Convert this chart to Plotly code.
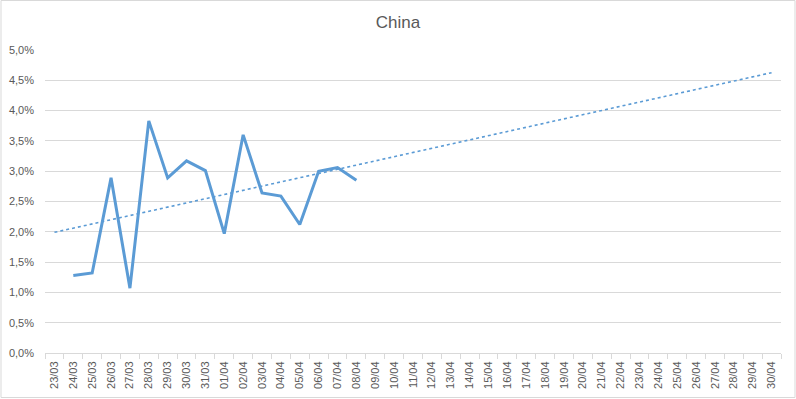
import numpy as np
import plotly.graph_objects as go

categories = ["23/03","24/03","25/03","26/03","27/03","28/03","29/03","30/03","31/03",
              "01/04","02/04","03/04","04/04","05/04","06/04","07/04","08/04","09/04",
              "10/04","11/04","12/04","13/04","14/04","15/04","16/04","17/04","18/04",
              "19/04","20/04","21/04","22/04","23/04","24/04","25/04","26/04","27/04",
              "28/04","29/04","30/04"]
data_dates = ["24/03","25/03","26/03","27/03","28/03","29/03","30/03","31/03",
              "01/04","02/04","03/04","04/04","05/04","06/04","07/04","08/04"]
values = [0.0128,0.0132,0.0289,0.0107,0.0383,0.0289,0.0317,0.0301,
          0.0197,0.0360,0.0264,0.0259,0.0212,0.0300,0.0306,0.0285]

# Linear trendline (Excel-style, on category index) extended over all categories
idx = np.array([categories.index(d) for d in data_dates], dtype=float)
slope, intercept = np.polyfit(idx, np.array(values), 1)
all_idx = np.arange(len(categories))
trend = slope * all_idx + intercept

color = "#5B9BD5"
fig = go.Figure()
fig.add_trace(go.Scatter(x=data_dates, y=values, mode="lines",
                         line=dict(color=color, width=3), showlegend=False, hoverinfo="skip"))
fig.add_trace(go.Scatter(x=categories, y=trend.tolist(), mode="lines",
                         line=dict(color=color, width=1.6, dash="dot"), showlegend=False, hoverinfo="skip"))

W, H = 796, 399
ml, mr, mt, mb = 45, 15, 50, 46
pw, ph = W - ml - mr, H - mt - mb
fig.update_layout(
    width=W, height=H,
    margin=dict(l=ml, r=mr, t=mt, b=mb),
    paper_bgcolor="white", plot_bgcolor="white",
    separators=",.",
    font=dict(family="Liberation Sans, Arial, sans-serif", color="#595959", size=11),
    title=dict(text="China", x=0.5, xanchor="center", y=1 - 22/H, yanchor="middle",
               font=dict(size=17, color="#595959")),
    xaxis=dict(type="category", categoryorder="array", categoryarray=categories,
               range=[-0.5, len(categories) - 0.5],
               tickangle=-90, tickfont=dict(size=11, color="#595959"),
               ticklabelstandoff=3, automargin=False,
               showgrid=False, showline=True, linecolor="#d9d9d9", linewidth=1,
               ticks="outside", tickson="boundaries", ticklen=5, tickcolor="#d9d9d9",
               zeroline=False, fixedrange=True),
    yaxis=dict(range=[0, 0.05], dtick=0.005, tickformat=".1%",
               showgrid=True, gridcolor="#d9d9d9", gridwidth=1,
               zeroline=False, showline=False, ticks="", ticklen=0,
               ticklabelstandoff=10, automargin=False,
               tickfont=dict(size=11, color="#595959"), fixedrange=True),
    shapes=[dict(type="rect", xref="paper", yref="paper",
                 x0=(-ml + 1) / pw, x1=(pw + mr - 1) / pw,
                 y0=(-mb + 1.5) / ph, y1=(ph + mt - 0.5) / ph,
                 line=dict(color="#d9d9d9", width=1), fillcolor="rgba(0,0,0,0)", layer="below")],
)
fig.write_html("out.html")
